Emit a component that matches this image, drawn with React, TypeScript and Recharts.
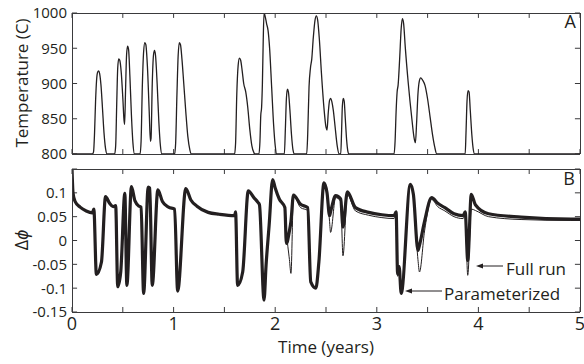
import React from 'react';
import { LineChart, Line, XAxis, YAxis, ReferenceLine } from 'recharts';

// Panel A: furnace temperature (C) vs time (years)
const tempTime = [
  0, 0.2, 0.212, 0.222, 0.232, 0.242, 0.252, 0.262, 0.272, 0.285, 0.3, 0.315, 0.33, 0.345,
  0.42, 0.43, 0.44, 0.45, 0.46, 0.47, 0.485, 0.5, 0.512, 0.518, 0.527, 0.537, 0.547, 0.557, 0.57, 0.585, 0.6, 0.615,
  0.67, 0.68, 0.692, 0.705, 0.717, 0.727, 0.742, 0.76, 0.772, 0.778, 0.79, 0.802, 0.812, 0.822, 0.838, 0.855, 0.87, 0.885,
  1.01, 1.02, 1.033, 1.045, 1.057, 1.068, 1.082, 1.1, 1.12, 1.14, 1.16, 1.175,
  1.6, 1.61, 1.622, 1.635, 1.648, 1.66, 1.675, 1.69, 1.71, 1.73, 1.75, 1.77, 1.79, 1.8,
  1.84, 1.85, 1.858, 1.866, 1.874, 1.882, 1.89, 1.9, 1.915, 1.93, 1.945, 1.965, 1.985, 2.0, 2.015,
  2.09, 2.1, 2.11, 2.12, 2.13, 2.145, 2.16, 2.175, 2.19,
  2.31, 2.32, 2.333, 2.347, 2.36, 2.375, 2.392, 2.405, 2.418, 2.435, 2.455, 2.48, 2.5, 2.51, 2.522, 2.535, 2.545, 2.558, 2.572, 2.59, 2.61, 2.63,
  2.645, 2.653, 2.661, 2.67, 2.679, 2.69, 2.703, 2.715, 2.725,
  3.17, 3.18, 3.19, 3.2, 3.21, 3.225, 3.24, 3.252, 3.264, 3.28, 3.31, 3.345, 3.368, 3.38, 3.392, 3.405, 3.418, 3.432, 3.45, 3.475, 3.5, 3.525, 3.55, 3.57, 3.59,
  3.87, 3.878, 3.888, 3.898, 3.908, 3.92, 3.935, 3.95, 3.962, 5,
];
const tempValue = [
  800, 800, 803, 830, 875, 905, 916, 918, 914, 898, 865, 830, 808, 800,
  800, 812, 870, 922, 935, 933, 915, 880, 848, 842, 890, 940, 953, 948, 910, 855, 815, 800,
  800, 818, 895, 945, 958, 955, 925, 860, 818, 822, 900, 940, 947, 940, 900, 845, 812, 800,
  800, 815, 885, 940, 958, 955, 935, 900, 860, 825, 806, 800,
  800, 815, 885, 925, 936, 933, 918, 900, 888, 866, 835, 812, 802, 800,
  800, 818, 855, 866, 900, 960, 1000, 996, 985, 975, 950, 895, 840, 812, 800,
  800, 835, 878, 892, 888, 862, 828, 806, 800,
  800, 828, 895, 922, 935, 965, 990, 996, 990, 962, 915, 865, 838, 834, 858, 876, 879, 874, 862, 838, 812, 800,
  800, 830, 868, 879, 875, 850, 820, 804, 800,
  800, 818, 860, 888, 898, 935, 978, 992, 985, 952, 900, 850, 822, 816, 845, 885, 903, 908, 905, 897, 878, 852, 826, 810, 800,
  800, 830, 875, 890, 888, 862, 828, 806, 800, 800,
];

// Panel B: delta phi, parameterized model vs full run
const phiTime = [
  0, 0.01, 0.03, 0.08, 0.14, 0.2, 0.215, 0.24, 0.29, 0.33, 0.37, 0.405, 0.43, 0.45, 0.48,
  0.52, 0.54, 0.585, 0.62, 0.66, 0.68, 0.705, 0.75, 0.765, 0.79, 0.845, 0.89, 0.95, 1.01,
  1.04, 1.12, 1.17, 1.23, 1.34, 1.45, 1.6, 1.61, 1.63, 1.68, 1.735, 1.79, 1.83, 1.845,
  1.89, 1.91, 1.94, 1.975, 2.0, 2.04, 2.095, 2.11, 2.14, 2.155, 2.18, 2.25, 2.32,
  2.35, 2.4, 2.43, 2.48, 2.51, 2.535, 2.545, 2.595, 2.645, 2.667, 2.71, 2.79, 2.92,
  3.05, 3.17, 3.19, 3.205, 3.22, 3.24, 3.33, 3.36, 3.405, 3.42, 3.47, 3.54, 3.6, 3.67,
  3.76, 3.85, 3.87, 3.895, 3.93, 3.97, 4.1, 4.42, 4.91, 5,
];
const paramPhi = [
  0.15, 0.1, 0.082, 0.07, 0.062, 0.058, 0.066, -0.071, -0.045, 0.092, 0.078, 0.071, 0.073, -0.097, -0.065,
  0.099, -0.094, 0.113, 0.083, 0.072, 0.07, -0.111, 0.112, 0.11, -0.094, 0.106, 0.082, 0.07, 0.066,
  -0.106, 0.109, 0.085, 0.072, 0.059, 0.055, 0.052, 0.06, -0.094, -0.066, 0.104, 0.09, 0.08, 0.075,
  -0.125, -0.052, 0.031, 0.128, 0.11, 0.087, 0.069, -0.006, 0.02, 0.04, 0.095, 0.076, 0.069,
  -0.087, -0.1, -0.045, 0.121, 0.1, 0.052, 0.06, 0.094, 0.087, 0.028, 0.102, 0.069, 0.059,
  0.054, 0.052, 0.06, -0.07, -0.055, -0.111, 0.118, 0.097, -0.021, -0.01, 0.04, 0.09, 0.078, 0.069,
  0.056, 0.052, 0.06, -0.042, 0.097, 0.075, 0.056, 0.049, 0.045, 0.045,
];
const fullPhi = [
  0.15, 0.1, 0.082, 0.07, 0.062, 0.058, 0.066, -0.072, -0.045, 0.092, 0.078, 0.071, 0.073, -0.097, -0.065,
  0.099, -0.094, 0.113, 0.083, 0.072, 0.07, -0.111, 0.112, 0.11, -0.094, 0.106, 0.082, 0.07, 0.066,
  -0.106, 0.109, 0.085, 0.072, 0.059, 0.055, 0.052, 0.06, -0.094, -0.066, 0.104, 0.09, 0.08, 0.075,
  -0.125, -0.052, 0.031, 0.128, 0.11, 0.086, 0.068, 0.02, -0.04, -0.069, 0.094, 0.069, 0.063,
  -0.087, -0.1, -0.045, 0.121, 0.1, 0.04, 0.017, 0.09, 0.082, -0.032, 0.096, 0.062, 0.053,
  0.048, 0.046, 0.056, -0.075, -0.06, -0.097, 0.118, 0.097, -0.04, -0.066, 0.02, 0.086, 0.071, 0.062,
  0.05, 0.046, 0.056, -0.073, 0.066, 0.063, 0.05, 0.044, 0.042, 0.042,
];

const timeTicks = [0, 0.5, 1, 1.5, 2, 2.5, 3, 3.5, 4, 4.5, 5];
const timeTickLabels = ['0', '', '1', '', '2', '', '3', '', '4', '', '5'];
const tempTicks = [800, 850, 900, 950, 1000];
const tempTickLabels = ['800', '850', '900', '950', '1000'];
const phiTicks = [-0.15, -0.1, -0.05, 0, 0.05, 0.1, 0.15];
const phiTickLabels = ['-0.15', '-0.1', '-0.05', '0', '0.05', '0.1', ''];

const tempData = tempTime.map((t, i) => ({ t, temp: tempValue[i] }));
const phiData = phiTime.map((t, i) => ({ t, param: paramPhi[i], full: fullPhi[i] }));

const INK = '#231f20';
const AXIS = '#3a3a3c';
// inward tick length (~5px) expressed in each axis' units
const TICK_T = 0.05;
const TICK_TEMP = 7;
const TICK_PHI = 0.0105;

const lookup = (values: number[], labels: string[] | undefined, v: number) => {
  if (!labels) return '';
  const i = values.findIndex(u => Math.abs(u - v) < 1e-9);
  return i >= 0 ? labels[i] : '';
};

const makeLabel = (side: string, values: number[], labels?: string[]) => (props: any) => {
  const label = lookup(values, labels, props.payload.value);
  if (!label) return <g />;
  if (side === 'bottom') {
    return <text x={props.x} y={props.y + 18} textAnchor="middle" fontSize={18} fill={INK}>{label}</text>;
  }
  return <text x={props.x - 5} y={props.y} dy="0.36em" textAnchor="end" fontSize={15} fill={INK}>{label}</text>;
};

const axisCommon = {
  tickLine: false,
  tickSize: 0,
  tickMargin: 0,
  interval: 0 as const,
  axisLine: { stroke: AXIS, shapeRendering: 'crispEdges' },
  allowDataOverflow: true,
};

// matlab-style inward ticks on all four sides of a panel
const boxTicks = (yTicks: number[], yMin: number, yMax: number, yLen: number) => [
  ...timeTicks.map(t => (
    <ReferenceLine key={`b${t}`} segment={[{ x: t, y: yMin }, { x: t, y: yMin + yLen }]} stroke={AXIS} />
  )),
  ...timeTicks.map(t => (
    <ReferenceLine key={`t${t}`} segment={[{ x: t, y: yMax }, { x: t, y: yMax - yLen }]} stroke={AXIS} />
  )),
  ...yTicks.map(v => (
    <ReferenceLine key={`l${v}`} segment={[{ x: 0, y: v }, { x: TICK_T, y: v }]} stroke={AXIS} />
  )),
  ...yTicks.map(v => (
    <ReferenceLine key={`r${v}`} segment={[{ x: 5, y: v }, { x: 5 - TICK_T, y: v }]} stroke={AXIS} />
  )),
];

const App: React.FC = () => {
  return (
    <div style={{ position: 'absolute', left: 0, top: 0, width: 584, height: 364, background: '#fff', fontFamily: "'Open Sans', sans-serif" }}>
      <div style={{ position: 'absolute', left: 0, top: 0 }}>
        <LineChart width={584} height={164} data={tempData} margin={{ top: 12, right: 3, bottom: 4, left: 0 }}>
          <XAxis dataKey="t" type="number" domain={[0, 5]} ticks={timeTicks} height={6} tick={makeLabel('bottom', timeTicks)} {...axisCommon} />
          <XAxis xAxisId="top" dataKey="t" orientation="top" type="number" domain={[0, 5]} ticks={timeTicks} height={1} tick={false} {...axisCommon} />
          <YAxis type="number" domain={[800, 1000]} ticks={tempTicks} width={72} tick={makeLabel('left', tempTicks, tempTickLabels)} {...axisCommon} />
          <YAxis yAxisId="r" orientation="right" type="number" domain={[800, 1000]} ticks={tempTicks} width={1} tick={false} {...axisCommon} />
          {boxTicks(tempTicks, 800, 1000, TICK_TEMP)}
          <Line xAxisId="top" yAxisId="r" dataKey="temp" stroke="none" dot={false} isAnimationActive={false} />
          <Line dataKey="temp" type="monotone" stroke={INK} strokeWidth={1.3} dot={false} isAnimationActive={false} />
        </LineChart>
      </div>
      <div style={{ position: 'absolute', left: 0, top: 160 }}>
        <LineChart width={584} height={204} data={phiData} margin={{ top: 8, right: 3, bottom: 0, left: 0 }}>
          <XAxis dataKey="t" type="number" domain={[0, 5]} ticks={timeTicks} height={52} tick={makeLabel('bottom', timeTicks, timeTickLabels)} {...axisCommon} />
          <XAxis xAxisId="top" dataKey="t" orientation="top" type="number" domain={[0, 5]} ticks={timeTicks} height={1} tick={false} {...axisCommon} />
          <YAxis type="number" domain={[-0.15, 0.15]} ticks={phiTicks} width={72} tick={makeLabel('left', phiTicks, phiTickLabels)} {...axisCommon} />
          <YAxis yAxisId="r" orientation="right" type="number" domain={[-0.15, 0.15]} ticks={phiTicks} width={1} tick={false} {...axisCommon} />
          {boxTicks(phiTicks, -0.15, 0.15, TICK_PHI)}
          <Line xAxisId="top" yAxisId="r" dataKey="param" stroke="none" dot={false} isAnimationActive={false} />
          <Line dataKey="param" name="Parameterized" type="monotone" stroke={INK} strokeWidth={3.2} dot={false} isAnimationActive={false} />
          <Line dataKey="full" name="Full run" type="monotone" stroke={INK} strokeWidth={1} dot={false} isAnimationActive={false} />
        </LineChart>
      </div>
      <svg width={584} height={364} style={{ position: 'absolute', left: 0, top: 0, pointerEvents: 'none' }}>
        <text transform="translate(28,83) rotate(-90)" textAnchor="middle" fontSize={17} fill={INK}>Temperature (C)</text>
        <text transform="translate(28,240) rotate(-90)" textAnchor="middle" fontSize={18} fill={INK}>
          Δ<tspan fontStyle="italic">ϕ</tspan>
        </text>
        <text x={326} y={353} textAnchor="middle" fontSize={17} fill={INK}>Time (years)</text>
        <text x={576} y={28} textAnchor="end" fontSize={18} fill={INK}>A</text>
        <text x={575} y={185} textAnchor="end" fontSize={18} fill={INK}>B</text>
        <line x1={503} y1={266} x2={482} y2={266} stroke={INK} strokeWidth={1} />
        <path d="M476,266 L483,263.5 L483,268.5 Z" fill={INK} />
        <text x={506} y={275} fontSize={17} fill={INK}>Full run</text>
        <line x1={442} y1={291} x2={411} y2={291} stroke={INK} strokeWidth={1} />
        <path d="M405,291 L412,288.5 L412,293.5 Z" fill={INK} />
        <text x={444} y={300} fontSize={17} fill={INK}>Parameterized</text>
      </svg>
    </div>
  );
};

export default App;
